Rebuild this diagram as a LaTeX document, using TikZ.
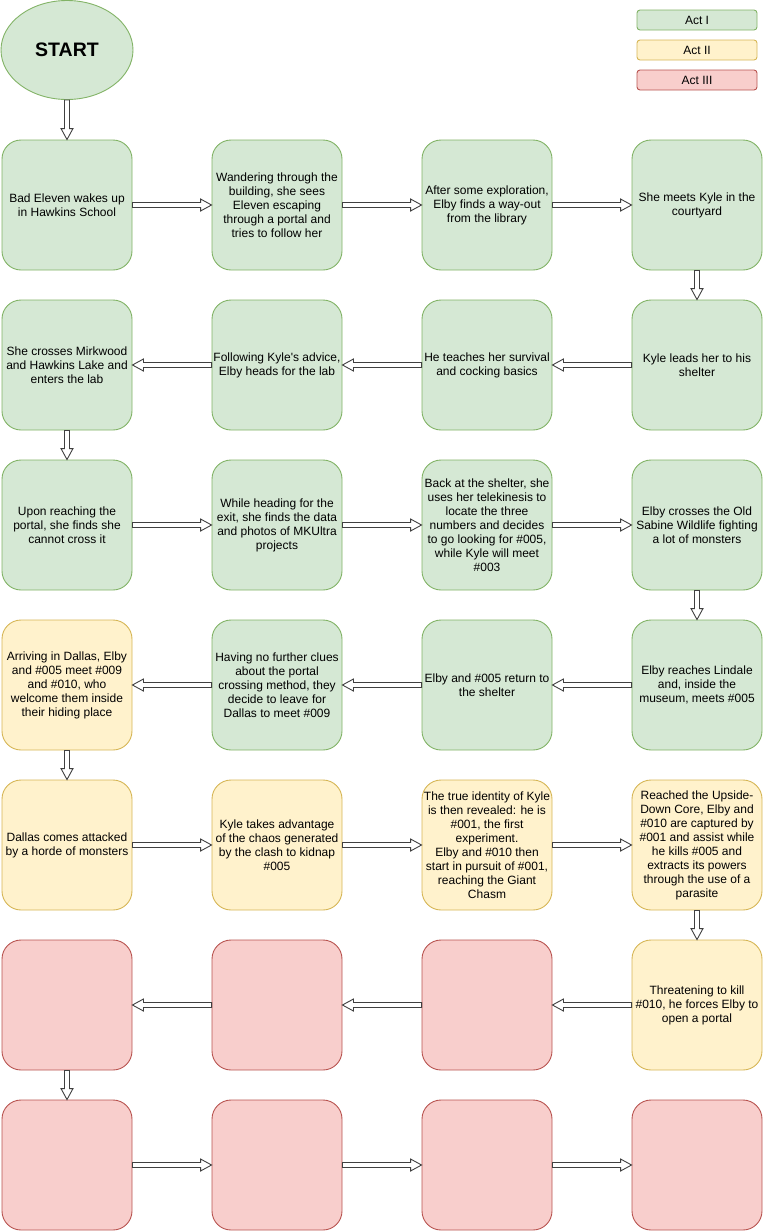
\documentclass[tikz,border=0pt]{standalone}
\usepackage{fontspec}
\setmainfont{Liberation Sans}
\usetikzlibrary{calc,shapes.geometric}
\definecolor{gfill}{HTML}{D5E8D4}\definecolor{gline}{HTML}{82B366}
\definecolor{yfill}{HTML}{FFF2CC}\definecolor{yline}{HTML}{D6B656}
\definecolor{rfill}{HTML}{F8CECC}\definecolor{rline}{HTML}{B85450}
\tikzset{
  box/.style={rectangle, rounded corners=19pt, minimum width=130pt, minimum height=130pt,
    align=center, font=\fontsize{12}{14}\selectfont, inner sep=0pt, line width=0.9pt},
  gbox/.style={box, fill=gfill, draw=gline},
  ybox/.style={box, fill=yfill, draw=yline},
  rbox/.style={box, fill=rfill, draw=rline},
  legbox/.style={rectangle, rounded corners=3pt, minimum width=120pt, minimum height=20pt,
    inner sep=0pt, font=\fontsize{12}{14}\selectfont, line width=0.9pt},
  farrow/.style={fill=white, draw=black!75, line width=0.9pt, line join=miter},
}
\newcommand\arrR[2]{\draw[farrow] let \p1=(#1.east), \p2=(#2.west) in
  (\x1,\y1+2.5pt) -- (\x2-11pt,\y1+2.5pt) -- (\x2-11pt,\y1+6pt) -- (\x2,\y1) --
  (\x2-11pt,\y1-6pt) -- (\x2-11pt,\y1-2.5pt) -- (\x1,\y1-2.5pt) -- cycle;}
\newcommand\arrL[2]{\draw[farrow] let \p1=(#1.west), \p2=(#2.east) in
  (\x1,\y1+2.5pt) -- (\x2+11pt,\y1+2.5pt) -- (\x2+11pt,\y1+6pt) -- (\x2,\y1) --
  (\x2+11pt,\y1-6pt) -- (\x2+11pt,\y1-2.5pt) -- (\x1,\y1-2.5pt) -- cycle;}
\newcommand\arrD[2]{\draw[farrow] let \p1=(#1.south), \p2=(#2.north) in
  (\x1-2.5pt,\y1) -- (\x1-2.5pt,\y2+11pt) -- (\x1-6pt,\y2+11pt) -- (\x1,\y2) --
  (\x1+6pt,\y2+11pt) -- (\x1+2.5pt,\y2+11pt) -- (\x1+2.5pt,\y1) -- cycle;}
\begin{document}
\begin{tikzpicture}[x=1pt,y=-1pt]
\useasboundingbox (0,0) rectangle (763,1232);
% legend
\node[legbox, fill=gfill, draw=gline] (l1) at (697,20) {Act I};
\node[legbox, fill=yfill, draw=yline] (l2) at (697,50) {Act II};
\node[legbox, fill=rfill, draw=rline] (l3) at (697,80) {Act III};
% start
\node[ellipse, fill=gfill, draw=gline, line width=0.9pt, minimum width=132pt, minimum height=99pt,
  inner sep=0pt, font=\fontsize{19.5}{22}\selectfont\bfseries] (start) at (67,50) {START};
% row 1
\node[gbox] (b1) at (67,205) {Bad Eleven wakes up\\in Hawkins School};
\node[gbox] (b2) at (277,205) {Wandering through the\\building, she sees\\Eleven escaping\\through a portal and\\tries to follow her};
\node[gbox] (b3) at (487,205) {After some exploration,\\Elby finds a way-out\\from the library};
\node[gbox] (b4) at (697,205) {She meets Kyle in the\\courtyard};
% row 2
\node[gbox] (c4) at (697,365) {Kyle leads her to his\\shelter};
\node[gbox] (c3) at (487,365) {He teaches her survival\\and cocking basics};
\node[gbox] (c2) at (277,365) {Following Kyle\textquotesingle s advice,\\Elby heads for the lab};
\node[gbox] (c1) at (67,365) {She crosses Mirkwood\\and Hawkins Lake and\\enters the lab};
% row 3
\node[gbox] (d1) at (67,525) {Upon reaching the\\portal, she finds she\\cannot cross it};
\node[gbox] (d2) at (277,525) {While heading for the\\exit, she finds the data\\and photos of MKUltra\\projects};
\node[gbox] (d3) at (487,525) {Back at the shelter, she\\uses her telekinesis to\\locate the three\\numbers and decides\\to go looking for \#005,\\while Kyle will meet\\\#003};
\node[gbox] (d4) at (697,525) {Elby crosses the Old\\Sabine Wildlife fighting\\a lot of monsters};
% row 4
\node[gbox] (e4) at (697,685) {Elby reaches Lindale\\and, inside the\\museum, meets \#005};
\node[gbox] (e3) at (487,685) {Elby and \#005 return to\\the shelter};
\node[gbox] (e2) at (277,685) {Having no further clues\\about the portal\\crossing method, they\\decide to leave for\\Dallas to meet \#009};
\node[ybox] (e1) at (67,685) {Arriving in Dallas, Elby\\and \#005 meet \#009\\and \#010, who\\welcome them inside\\their hiding place};
% row 5
\node[ybox] (f1) at (67,845) {Dallas comes attacked\\by a horde of monsters};
\node[ybox] (f2) at (277,845) {Kyle takes advantage\\of the chaos generated\\by the clash to kidnap\\\#005};
\node[ybox] (f3) at (487,845) {The true identity of Kyle\\is then revealed: he is\\\#001, the first\\experiment.\\Elby and \#010 then\\start in pursuit of \#001,\\reaching the Giant\\Chasm};
\node[ybox] (f4) at (697,845) {Reached the Upside-\\Down Core, Elby and\\\#010 are captured by\\\#001 and assist while\\he kills \#005 and\\extracts its powers\\through the use of a\\parasite};
% row 6
\node[ybox] (g4) at (697,1005) {Threatening to kill\\\#010, he forces Elby to\\open a portal};
\node[rbox] (g3) at (487,1005) {};
\node[rbox] (g2) at (277,1005) {};
\node[rbox] (g1) at (67,1005) {};
% row 7
\node[rbox] (h1) at (67,1165) {};
\node[rbox] (h2) at (277,1165) {};
\node[rbox] (h3) at (487,1165) {};
\node[rbox] (h4) at (697,1165) {};
% arrows
\arrD{start}{b1}
\arrR{b1}{b2}\arrR{b2}{b3}\arrR{b3}{b4}
\arrD{b4}{c4}
\arrL{c4}{c3}\arrL{c3}{c2}\arrL{c2}{c1}
\arrD{c1}{d1}
\arrR{d1}{d2}\arrR{d2}{d3}\arrR{d3}{d4}
\arrD{d4}{e4}
\arrL{e4}{e3}\arrL{e3}{e2}\arrL{e2}{e1}
\arrD{e1}{f1}
\arrR{f1}{f2}\arrR{f2}{f3}\arrR{f3}{f4}
\arrD{f4}{g4}
\arrL{g4}{g3}\arrL{g3}{g2}\arrL{g2}{g1}
\arrD{g1}{h1}
\arrR{h1}{h2}\arrR{h2}{h3}\arrR{h3}{h4}
\end{tikzpicture}
\end{document}
